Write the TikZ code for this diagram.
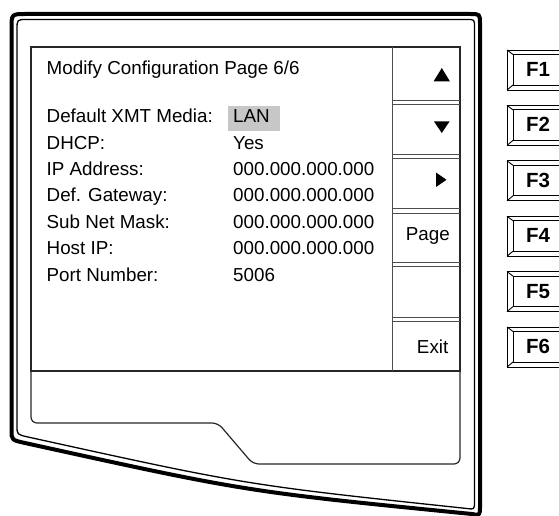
\documentclass[tikz,border=0pt]{standalone}
\usepackage{fontspec}
\setmainfont{Liberation Sans}
\begin{document}
\begin{tikzpicture}[x=1pt,y=-1pt,
  lbl/.style={anchor=base west, inner sep=0pt, font=\fontsize{18.8}{20}\selectfont},
  btn/.style={anchor=base east, inner sep=0pt, font=\fontsize{18.8}{20}\selectfont},
  fkeytxt/.style={anchor=base, inner sep=0pt, font=\fontsize{20.5}{22}\selectfont\bfseries},
  fkey/.style={draw=black, line width=0.9pt},
  bezelout/.style={draw=black, line width=4pt, line join=round},
  bezelin/.style={draw=black, line width=1.3pt, line join=round},
  screenline/.style={draw=black!85, line width=1.2pt},
  sepline/.style={draw=black!70, line width=0.8pt},
  hilite/.style={fill=black!22, draw=none}]
\useasboundingbox (0,0) rectangle (559,516);

% bezel
\draw[bezelout] (25,443) .. controls (246,491.6) .. (472,514)
  .. controls (480,515.5) .. (480,506) -- (480,24) .. controls (480,14) .. (470,14)
  -- (26,14) .. controls (11.5,14) .. (11.5,28.5) -- (11.5,430)
  .. controls (11.5,440) .. (25,443) -- cycle;
\draw[bezelin] (28,437) .. controls (246,485) .. (467,508.5)
  .. controls (474.5,509.5) .. (474.5,501) -- (474.5,27) .. controls (474.5,19.5) .. (467,19.5)
  -- (27,19.5) .. controls (17,19.5) .. (17,29.5) -- (17,426)
  .. controls (17,434.5) .. (28,437) -- cycle;

% screen
\draw[screenline] (31,371) -- (31,47) -- (460,47) -- (460,371) -- cycle;
\draw[screenline, rounded corners=6] (31,371) -- (31,423) -- (218,423) -- (253,464) -- (460,464) -- (460,371);
\draw[sepline] (392,47) -- (392,371);
\foreach \y in {102.5,156.5,211,264.5,319.5}{
  \draw[sepline] (392,\y-2.3) -- (460,\y-2.3);
  \draw[sepline] (392,\y+2.3) -- (460,\y+2.3);
}

% highlight
\fill[hilite] (228,106) rectangle (280,131);

% texts
\node[lbl] (title) at (46.5,75) {Modify Configuration Page 6/6};
\node[lbl] (l1) at (46.5,122.7) {Default XMT Media:};
\node[lbl] (l2) at (46.5,149.1) {DHCP:};
\node[lbl] (l3) at (46.5,175.5) {IP Address:};
\node[lbl] (l4) at (46.5,201.9) {Def. Gateway:};
\node[lbl] (l5) at (46.5,228.3) {Sub Net Mask:};
\node[lbl] (l6) at (46.5,254.7) {Host IP:};
\node[lbl] (l7) at (46.5,281.1) {Port Number:};
\node[lbl] (v1) at (233,122.7) {LAN};
\node[lbl] (v2) at (233,149.1) {Yes};
\node[lbl] (v3) at (233,175.5) {000.000.000.000};
\node[lbl] (v4) at (233,201.9) {000.000.000.000};
\node[lbl] (v5) at (233,228.3) {000.000.000.000};
\node[lbl] (v6) at (233,254.7) {000.000.000.000};
\node[lbl] (v7) at (233,281.1) {5006};

% soft buttons
\fill (433.5,81.5) -- (450,81.5) -- (441.8,68) -- cycle;
\fill (434,121.5) -- (449.5,121.5) -- (441.8,133) -- cycle;
\fill (436,172.5) -- (436,187) -- (446.5,179.8) -- cycle;
\node[btn] (page) at (450,240) {Page};
\node[btn] (exit) at (448.5,353) {Exit};

% F keys
\foreach \i in {1,...,6}{
  \pgfmathsetmacro{\t}{50+55.4*(\i-1)}
  \pgfmathsetmacro{\b}{\t+40}
  \draw[fkey] (570,\t) -- (507,\t) -- (507,\b) -- (570,\b);
  \draw[fkey] (570,\t+4.5) -- (513,\t+4.5) -- (513,\b-5) -- (570,\b-5);
  \draw[fkey] (507,\t) -- (513,\t+4.5);
  \draw[fkey] (507,\b) -- (513,\b-5);
  \node[fkeytxt] (f\i) at (538,\t+26.5) {F\i};
}
\end{tikzpicture}
\end{document}
